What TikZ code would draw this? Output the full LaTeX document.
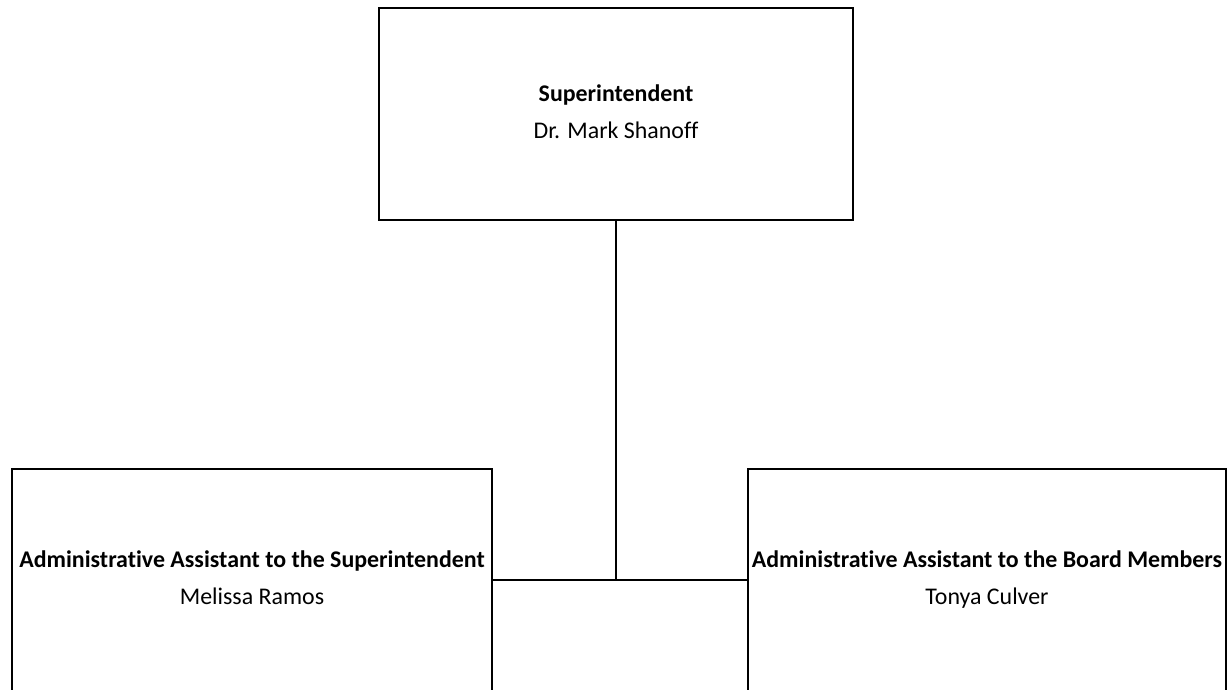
\documentclass[tikz,border=0pt]{standalone}
\usepackage{fontspec}
\setmainfont{Carlito}[Ligatures=NoCommon]
\usetikzlibrary{positioning}

\begin{document}
\begin{tikzpicture}[line width=1.6pt]
            \tikzstyle{every node}=[font=\fontsize{17}{26.3}\selectfont]
            \tikzstyle{post}=[draw, rectangle, align=center, inner sep=0pt, line width=1.6pt,
                execute at begin node={\rule{0pt}{20.6pt}}, execute at end node={\rule[-3.6pt]{0pt}{0pt}}]

            \useasboundingbox (0,0) rectangle (30.8,-17.225);
            \clip (0,0) rectangle (30.8,-17.225);

            \node[post, minimum width=11.85cm, minimum height=5.3cm] (sup) at (15.4, -2.85)
                {\textbf{Superintendent}\\Dr. Mark Shanoff};

            \node[post, minimum width=12cm, minimum height=5.55cm] (asstsup) at (6.3, -14.5)
                {\textbf{Administrative Assistant to the Superintendent}\\Melissa Ramos};
            \node[post, minimum width=11.95cm, minimum height=5.55cm] (asstboard) at (24.675, -14.5)
                {\textbf{Administrative Assistant to the Board Members}\\Tonya Culver};

            \draw (sup.south) -- (sup.south |- asstsup.east);
            \draw (asstsup.east) -- (asstboard.west);

\end{tikzpicture}
\end{document}
